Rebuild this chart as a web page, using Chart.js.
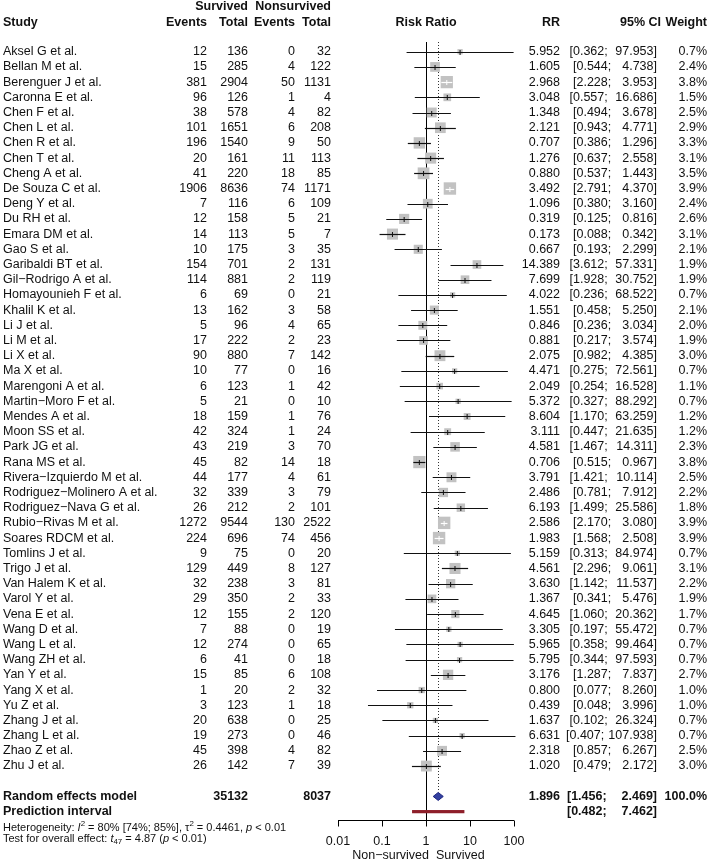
<!DOCTYPE html>
<html>
<head>
<meta charset="utf-8">
<title>Forest plot - Risk Ratio</title>
<script src="https://cdn.jsdelivr.net/npm/chart.js@4.4.0/dist/chart.umd.min.js"></script>
<style>
  html, body { margin: 0; padding: 0; background: #fff; }
  canvas { display: block; }
</style>
</head>
<body>
<canvas id="forest" width="709" height="863"></canvas>
<script>
// Study data
const studies = ["Aksel G et al.", "Bellan M et al.", "Berenguer J et al.", "Caronna E et al.", "Chen F et al.",
  "Chen L et al.", "Chen R et al.", "Chen T et al.", "Cheng A et al.", "De Souza C et al.", "Deng Y et al.",
  "Du RH et al.", "Emara DM et al.", "Gao S et al.", "Garibaldi BT et al.", "Gil\u2212Rodrigo A et al.",
  "Homayounieh F et al.", "Khalil K et al.", "Li J et al.", "Li M et al.", "Li X et al.", "Ma X et al.",
  "Marengoni A et al.", "Martin\u2212Moro F et al.", "Mendes A et al.", "Moon SS et al.", "Park JG et al.",
  "Rana MS et al.", "Rivera\u2212Izquierdo M et al.", "Rodriguez\u2212Molinero A et al.", "Rodriguez\u2212Nava G et al.",
  "Rubio\u2212Rivas M et al.", "Soares RDCM et al.", "Tomlins J et al.", "Trigo J et al.", "Van Halem K et al.",
  "Varol Y et al.", "Vena E et al.", "Wang D et al.", "Wang L et al.", "Wang ZH et al.", "Yan Y et al.",
  "Yang X et al.", "Yu Z et al.", "Zhang J et al.", "Zhang L et al.", "Zhao Z et al.", "Zhu J et al."];
const survEvents = [12, 15, 381, 96, 38, 101, 196, 20, 41, 1906, 7, 12, 14, 10, 154, 114, 6, 13, 5, 17, 90, 10, 6, 5,
  18, 42, 43, 45, 44, 32, 26, 1272, 224, 9, 129, 32, 29, 12, 7, 12, 6, 15, 1, 3, 20, 19, 45, 26];
const survTotal = [136, 285, 2904, 126, 578, 1651, 1540, 161, 220, 8636, 116, 158, 113, 175, 701, 881, 69, 162, 96, 222,
  880, 77, 123, 21, 159, 324, 219, 82, 177, 339, 212, 9544, 696, 75, 449, 238, 350, 155, 88, 274, 41, 85, 20, 123, 638,
  273, 398, 142];
const nonEvents = [0, 4, 50, 1, 4, 6, 9, 11, 18, 74, 6, 5, 5, 3, 2, 2, 0, 3, 4, 2, 7, 0, 1, 0, 1, 1, 3, 14, 4, 3, 2, 130,
  74, 0, 8, 3, 2, 2, 0, 0, 0, 6, 2, 1, 0, 0, 4, 7];
const nonTotal = [32, 122, 1131, 4, 82, 208, 50, 113, 85, 1171, 109, 21, 7, 35, 131, 119, 21, 58, 65, 23, 142, 16, 42,
  10, 76, 24, 70, 18, 61, 79, 101, 2522, 456, 20, 127, 81, 33, 120, 19, 65, 18, 108, 32, 18, 25, 46, 82, 39];
const rr = [5.952, 1.605, 2.968, 3.048, 1.348, 2.121, 0.707, 1.276, 0.880, 3.492, 1.096, 0.319, 0.173, 0.667, 14.389,
  7.699, 4.022, 1.551, 0.846, 0.881, 2.075, 4.471, 2.049, 5.372, 8.604, 3.111, 4.581, 0.706, 3.791, 2.486, 6.193,
  2.586, 1.983, 5.159, 4.561, 3.630, 1.367, 4.645, 3.305, 5.965, 5.795, 3.176, 0.800, 0.439, 1.637, 6.631, 2.318, 1.020];
const ciLow = [0.362, 0.544, 2.228, 0.557, 0.494, 0.943, 0.386, 0.637, 0.537, 2.791, 0.380, 0.125, 0.088, 0.193, 3.612,
  1.928, 0.236, 0.458, 0.236, 0.217, 0.982, 0.275, 0.254, 0.327, 1.170, 0.447, 1.467, 0.515, 1.421, 0.781, 1.499,
  2.170, 1.568, 0.313, 2.296, 1.142, 0.341, 1.060, 0.197, 0.358, 0.344, 1.287, 0.077, 0.048, 0.102, 0.407, 0.857, 0.479];
const ciHigh = [97.953, 4.738, 3.953, 16.686, 3.678, 4.771, 1.296, 2.558, 1.443, 4.370, 3.160, 0.816, 0.342, 2.299,
  57.331, 30.752, 68.522, 5.250, 3.034, 3.574, 4.385, 72.561, 16.528, 88.292, 63.259, 21.635, 14.311, 0.967, 10.114,
  7.912, 25.586, 3.080, 2.508, 84.974, 9.061, 11.537, 5.476, 20.362, 55.472, 99.464, 97.593, 7.837, 8.260, 3.996,
  26.324, 107.938, 6.267, 2.172];
const weights = [0.7, 2.4, 3.8, 1.5, 2.5, 2.9, 3.3, 3.1, 3.5, 3.9, 2.4, 2.6, 3.1, 2.1, 1.9, 1.9, 0.7, 2.1, 2.0, 1.9,
  3.0, 0.7, 1.1, 0.7, 1.2, 1.2, 2.3, 3.8, 2.5, 2.2, 1.8, 3.9, 3.9, 0.7, 3.1, 2.2, 1.9, 1.7, 0.7, 0.7, 0.7, 2.7, 1.0,
  1.0, 0.7, 0.7, 2.5, 3.0];

// pooled results
const pooled = [1.896, 1.456, 2.469];      // RR, lower, upper
const predInterval = [0.482, 7.462];
const totals = [35132, 8037];
const xTicks = [0.01, 0.1, 1, 10, 100];
const xTickLabels = ["0.01", "0.1", "1", "10", "100"];

const FONT = '"Liberation Sans", Arial, Helvetica, sans-serif';
const fs = 12.5;
const normal = fs + 'px ' + FONT;
const bold = 'bold ' + fs + 'px ' + FONT;

const MAX_BOX = 12.4;   // side of the biggest square in px
const boxSide = w => MAX_BOX * Math.sqrt(w / Math.max(...weights));

const nRows = studies.length;
const summaryRow = nRows + 1;
const predRow = nRows + 2;

// column anchors (px)
const col = { study: 3, evS: 207, totS: 248, evN: 295, totN: 331, rr: 560, ci: 657, ciHead: 661, w: 707 };

function ciParts(lo, hi) {
  const up = hi.toFixed(3);
  // lower bound shifts left as the upper bound gets wider (R pads the string)
  return ['[' + lo.toFixed(3) + ';', up + ']', 573 - 3.5 * (up.length - 5)];
}

function txt(ctx, s, x, y, align, font) {
  ctx.font = font || normal;
  ctx.textAlign = align || 'left';
  ctx.fillText(s, x, y);
}

function drawRich(ctx, parts, x, y, size) {
  let cx = x;
  parts.forEach(p => {
    const sz = p.sup || p.sub ? size * 0.72 : size;
    ctx.font = (p.italic ? 'italic ' : '') + sz + 'px ' + FONT;
    ctx.textAlign = 'left';
    const dy = p.sup ? -size * 0.38 : p.sub ? size * 0.3 : 0;
    ctx.fillText(p.t, cx, y + dy);
    cx += ctx.measureText(p.t).width;
  });
}

const forestPlugin = {
  id: 'forest',
  beforeDatasetsDraw(chart) {
    const { ctx, scales: { x, y }, chartArea } = chart;
    ctx.save();
    // line of no effect
    ctx.strokeStyle = '#000';
    ctx.lineWidth = 1;
    const one = Math.round(x.getPixelForValue(1)) + 0.5;
    ctx.beginPath();
    ctx.moveTo(one, chartArea.top);
    ctx.lineTo(one, chartArea.bottom);
    ctx.stroke();
    // dotted line at pooled estimate
    ctx.setLineDash([1, 2]);
    ctx.strokeStyle = '#333';
    const px = Math.round(x.getPixelForValue(pooled[0])) + 0.5;
    ctx.beginPath();
    ctx.moveTo(px, chartArea.top);
    ctx.lineTo(px, y.getPixelForValue(summaryRow) - 4);
    ctx.stroke();
    ctx.restore();
  },
  afterDatasetsDraw(chart) {
    const { ctx, scales: { x, y } } = chart;
    ctx.save();
    // confidence intervals
    for (let i = 0; i < nRows; i++) {
      const yy = Math.round(y.getPixelForValue(i)) + 0.5;
      const x0 = x.getPixelForValue(ciLow[i]);
      const x1 = x.getPixelForValue(ciHigh[i]);
      const xc = x.getPixelForValue(rr[i]);
      const side = boxSide(weights[i]);
      const inside = (x1 - x0) < side - 1;
      ctx.strokeStyle = inside ? '#fff' : '#111';
      ctx.lineWidth = 1.2;
      ctx.beginPath();
      ctx.moveTo(x0, yy);
      ctx.lineTo(x1, yy);
      ctx.stroke();
      ctx.lineWidth = 1;
      ctx.beginPath();
      ctx.moveTo(xc, yy - 2.5);
      ctx.lineTo(xc, yy + 2.5);
      ctx.stroke();
    }
    // pooled diamond
    const dy = y.getPixelForValue(summaryRow);
    ctx.fillStyle = '#3340a0';
    ctx.strokeStyle = '#1d2580';
    ctx.lineWidth = 1;
    ctx.beginPath();
    ctx.moveTo(x.getPixelForValue(pooled[1]), dy);
    ctx.lineTo(x.getPixelForValue(pooled[0]), dy - 4);
    ctx.lineTo(x.getPixelForValue(pooled[2]), dy);
    ctx.lineTo(x.getPixelForValue(pooled[0]), dy + 4);
    ctx.closePath();
    ctx.fill();
    ctx.stroke();
    // prediction interval
    const py = y.getPixelForValue(predRow);
    ctx.fillStyle = '#8e1f2a';
    const p0 = x.getPixelForValue(predInterval[0]);
    const p1 = x.getPixelForValue(predInterval[1]);
    ctx.fillRect(p0, py - 1.6, p1 - p0, 3.2);
    ctx.restore();
  },
  afterDraw(chart) {
    const { ctx, scales: { x, y }, chartArea } = chart;
    ctx.save();
    ctx.fillStyle = '#111';
    ctx.textBaseline = 'middle';

    // header
    const h1 = y.getPixelForValue(-2.96), h2 = y.getPixelForValue(-1.9);
    txt(ctx, 'Survived', col.totS, h1, 'right', bold);
    txt(ctx, 'Nonsurvived', col.totN, h1, 'right', bold);
    txt(ctx, 'Study', col.study, h2, 'left', bold);
    txt(ctx, 'Events', col.evS, h2, 'right', bold);
    txt(ctx, 'Total', col.totS, h2, 'right', bold);
    txt(ctx, 'Events', col.evN, h2, 'right', bold);
    txt(ctx, 'Total', col.totN, h2, 'right', bold);
    txt(ctx, 'Risk Ratio', x.getPixelForValue(1), h2, 'center', bold);
    txt(ctx, 'RR', col.rr, h2, 'right', bold);
    txt(ctx, '95% CI', col.ciHead, h2, 'right', bold);
    txt(ctx, 'Weight', col.w, h2, 'right', bold);

    // study rows
    for (let i = 0; i < nRows; i++) {
      const yy = y.getPixelForValue(i);
      txt(ctx, studies[i], col.study, yy, 'left');
      txt(ctx, String(survEvents[i]), col.evS, yy, 'right');
      txt(ctx, String(survTotal[i]), col.totS, yy, 'right');
      txt(ctx, String(nonEvents[i]), col.evN, yy, 'right');
      txt(ctx, String(nonTotal[i]), col.totN, yy, 'right');
      txt(ctx, rr[i].toFixed(3), col.rr, yy, 'right');
      const [a, b, ax] = ciParts(ciLow[i], ciHigh[i]);
      txt(ctx, a, ax, yy, 'left');
      txt(ctx, b, col.ci, yy, 'right');
      txt(ctx, weights[i].toFixed(1) + '%', col.w, yy, 'right');
    }

    // summary rows
    const sy = y.getPixelForValue(summaryRow);
    txt(ctx, 'Random effects model', col.study, sy, 'left', bold);
    txt(ctx, String(totals[0]), col.totS, sy, 'right', bold);
    txt(ctx, String(totals[1]), col.totN, sy, 'right', bold);
    txt(ctx, pooled[0].toFixed(3), col.rr, sy, 'right', bold);
    let [a, b] = ciParts(pooled[1], pooled[2]);
    txt(ctx, a, 567, sy, 'left', bold);
    txt(ctx, b, col.ci, sy, 'right', bold);
    txt(ctx, '100.0%', col.w, sy, 'right', bold);

    const py = y.getPixelForValue(predRow);
    txt(ctx, 'Prediction interval', col.study, py, 'left', bold);
    [a, b] = ciParts(predInterval[0], predInterval[1]);
    txt(ctx, a, 567, py, 'left', bold);
    txt(ctx, b, col.ci, py, 'right', bold);

    // heterogeneity text
    ctx.fillStyle = '#111';
    const s = 11;
    drawRich(ctx, [{ t: 'Heterogeneity: ' }, { t: 'I', italic: true }, { t: '2', sup: true },
      { t: ' = 80% [74%; 85%], \u03c4' }, { t: '2', sup: true }, { t: ' = 0.4461, ' },
      { t: 'p', italic: true }, { t: ' < 0.01' }], col.study, y.getPixelForValue(51.07), s);
    drawRich(ctx, [{ t: 'Test for overall effect: ' }, { t: 't', italic: true }, { t: '47', sub: true },
      { t: ' = 4.87 (' }, { t: 'p', italic: true }, { t: ' < 0.01)' }], col.study, y.getPixelForValue(51.8), s);

    // x axis
    const ay = Math.round(chartArea.bottom) + 0.5;
    ctx.strokeStyle = '#000';
    ctx.lineWidth = 1;
    ctx.beginPath();
    ctx.moveTo(x.getPixelForValue(xTicks[0]), ay);
    ctx.lineTo(x.getPixelForValue(xTicks[xTicks.length - 1]), ay);
    xTicks.forEach(t => {
      const tx = Math.round(x.getPixelForValue(t)) + 0.5;
      ctx.moveTo(tx, ay);
      ctx.lineTo(tx, ay + 6);
    });
    ctx.stroke();
    ctx.fillStyle = '#111';
    xTicks.forEach((t, k) => txt(ctx, xTickLabels[k], x.getPixelForValue(t), ay + 21, 'center'));
    const one = x.getPixelForValue(1);
    txt(ctx, 'Non\u2212survived', one + 3, ay + 35, 'right');
    txt(ctx, 'Survived', one + 10, ay + 35, 'left');
    ctx.restore();
  }
};

new Chart(document.getElementById('forest'), {
  type: 'scatter',
  data: {
    datasets: [{
      data: rr.map((v, i) => ({ x: v, y: i })),
      pointStyle: 'rect',
      pointRadius: weights.map(w => boxSide(w) / (2 * Math.SQRT1_2)),
      pointHoverRadius: weights.map(w => boxSide(w) / (2 * Math.SQRT1_2)),
      backgroundColor: '#c2c2c2',
      borderWidth: 0,
      clip: false
    }]
  },
  options: {
    responsive: false,
    devicePixelRatio: 1,
    animation: false,
    events: [],
    layout: { padding: { left: 338, right: 195, top: 42, bottom: 43 } },
    scales: {
      x: { type: 'logarithmic', min: 0.01, max: 100, display: false },
      y: { type: 'linear', min: -0.64, max: 50.55, reverse: true, display: false }
    },
    plugins: { legend: { display: false }, tooltip: { enabled: false } }
  },
  plugins: [forestPlugin]
});
</script>
</body>
</html>
